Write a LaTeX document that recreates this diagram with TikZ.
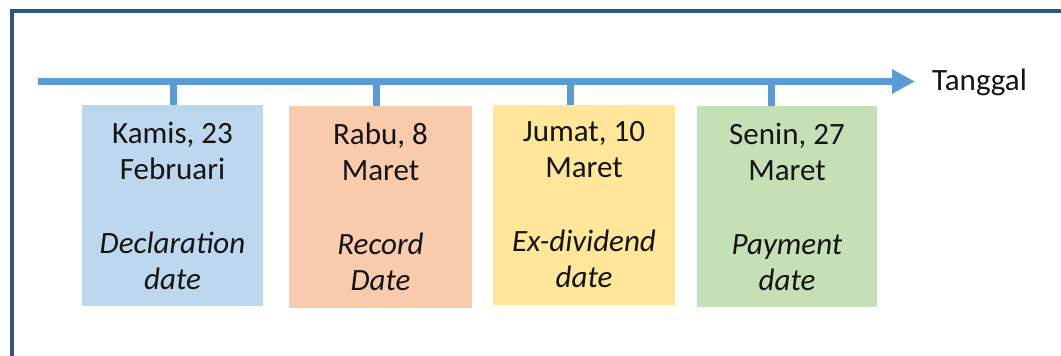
\documentclass[tikz,border=0pt]{standalone}
\usepackage{fontspec}
\setmainfont{Carlito}
\usetikzlibrary{arrows.meta}
\definecolor{frameblue}{HTML}{2F5383}
\definecolor{lineblue}{HTML}{5B9BD5}
\definecolor{cblue}{HTML}{BDD7EE}
\definecolor{corange}{HTML}{F8CBAD}
\definecolor{cyellow}{HTML}{FFE699}
\definecolor{cgreen}{HTML}{C5E0B4}
\definecolor{txt}{HTML}{141414}
\begin{document}
\begin{tikzpicture}[x=1pt,y=-1pt,
  datebox/.style={rectangle, inner sep=0pt, align=center, text=txt,
    font=\fontsize{31}{36}\selectfont},
  axisline/.style={lineblue, line width=7pt, -{Triangle[length=23pt,width=23pt]}},
  tickline/.style={lineblue, line width=7pt},
  axislabel/.style={text=txt, font=\fontsize{31}{36}\selectfont, anchor=west, inner sep=0pt}]
\useasboundingbox (0,0) rectangle (1061,356);
\fill[white] (0,0) rectangle (1061,356);
\begin{scope}
  \clip (0,0) rectangle (1061,356);
  \draw[frameblue, line width=4pt] (12,11) rectangle (1085,390);
\end{scope}

\node[datebox, fill=cblue, minimum width=181pt, minimum height=201pt] (b1) at (172.5,205.5)
  {Kamis, 23\\Februari\\[38pt]\textit{Declaration}\\\textit{date}};
\node[datebox, fill=corange, minimum width=183pt, minimum height=202pt] (b2) at (380.5,207)
  {Rabu, 8\\Maret\\[38pt]\textit{Record}\\\textit{Date}};
\node[datebox, fill=cyellow, minimum width=182pt, minimum height=200pt] (b3) at (584,205)
  {Jumat, 10\\Maret\\[38pt]\textit{Ex-dividend}\\\textit{date}};
\node[datebox, fill=cgreen, minimum width=180pt, minimum height=201pt] (b4) at (787,206.5)
  {Senin, 27\\Maret\\[38pt]\textit{Payment}\\\textit{date}};

\coordinate (start) at (38,81.5);
\coordinate (end) at (915,81.5);
\coordinate (t1) at (173.5,81.5);
\coordinate (t2) at (376,81.5);
\coordinate (t3) at (570.5,81.5);
\coordinate (t4) at (771.5,81.5);

\draw[tickline] (t1) -- (t1 |- b1.north);
\draw[tickline] (t2) -- (t2 |- b2.north);
\draw[tickline] (t3) -- (t3 |- b3.north);
\draw[tickline] (t4) -- (t4 |- b4.north);
\draw[axisline] (start) -- (end);

\node[axislabel] (lbl) at (932,82) {Tanggal};
\end{tikzpicture}
\end{document}
